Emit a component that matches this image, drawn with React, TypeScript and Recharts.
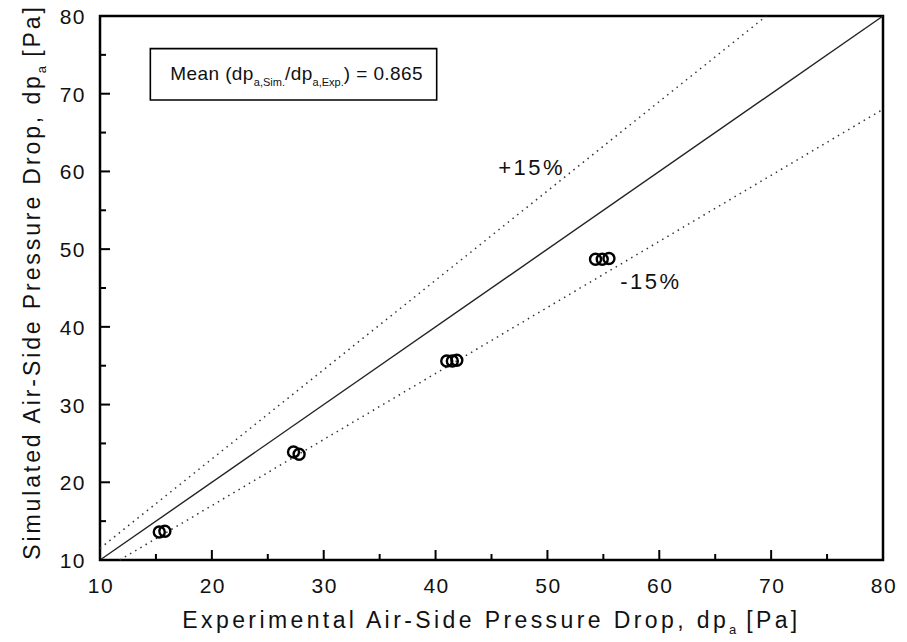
import React from 'react';
import {
  ScatterChart,
  Scatter,
  XAxis,
  YAxis,
  ReferenceLine,
  ReferenceArea,
  ReferenceDot,
} from 'recharts';

// measured (experimental) vs simulated air-side pressure drop, Pa
const expDp = [15.3, 15.8, 27.3, 27.8, 41.0, 41.5, 41.9, 54.3, 54.9, 55.5];
const simDp = [13.6, 13.7, 23.9, 23.6, 35.6, 35.6, 35.7, 48.7, 48.7, 48.8];

const xTicks = [10, 15, 20, 25, 30, 35, 40, 45, 50, 55, 60, 65, 70, 75, 80];
const yTicks = [10, 15, 20, 25, 30, 35, 40, 45, 50, 55, 60, 65, 70, 75, 80];

// line end points: perfect agreement and +/-15% bands
const parityLine = [{ x: 10, y: 10 }, { x: 80, y: 80 }];
const plus15Line = [{ x: 10, y: 11.5 }, { x: 69.57, y: 80 }];
const minus15Line = [{ x: 11.76, y: 10 }, { x: 80, y: 68 }];

const meanRatio = '0.865';

const points = expDp.map((x, i) => ({ x, y: simDp[i] }));

const FONT = '"Liberation Sans", Arial, Helvetica, sans-serif';

function XTick(props: any) {
  const { x, y, payload } = props;
  const major = payload.value % 10 === 0;
  return (
    <g>
      <line x1={x} x2={x} y1={y} y2={y - (major ? 10 : 6)} stroke="#000" strokeWidth={2} />
      {major && (
        <text x={x + 1} y={y + 33} textAnchor="middle" fontSize={21} letterSpacing={1.5} fill="#111" fontFamily={FONT}>
          {payload.value}
        </text>
      )}
    </g>
  );
}

function YTick(props: any) {
  const { x, y, payload } = props;
  const major = payload.value % 10 === 0;
  return (
    <g>
      <line x1={x} x2={x + (major ? 10 : 6)} y1={y} y2={y} stroke="#000" strokeWidth={2} />
      {major && (
        <text x={x - 14} y={y + 8} textAnchor="end" fontSize={21} letterSpacing={1.5} fill="#111" fontFamily={FONT}>
          {payload.value}
        </text>
      )}
    </g>
  );
}

const XTitle = (props: any) => {
  const vb = props.viewBox;
  return (
    <text
      x={vb.x + vb.width / 2}
      y={628}
      textAnchor="middle"
      fontSize={23}
      letterSpacing={3.4}
      fill="#111"
      fontFamily={FONT}
    >
      Experimental Air-Side Pressure Drop, dp
      <tspan fontSize={13} dy={6} letterSpacing={0}>a</tspan>
      <tspan dy={-6}> [Pa]</tspan>
    </text>
  );
};

const YTitle = (props: any) => {
  const vb = props.viewBox;
  const cy = vb.y + vb.height / 2 - 6;
  return (
    <text
      x={40}
      y={cy}
      transform={`rotate(-90, 40, ${cy})`}
      textAnchor="middle"
      fontSize={23}
      letterSpacing={2.9}
      fill="#111"
      fontFamily={FONT}
    >
      Simulated Air-Side Pressure Drop, dp
      <tspan fontSize={13} dy={6} letterSpacing={0}>a</tspan>
      <tspan dy={-6}> [Pa]</tspan>
    </text>
  );
};

const MeanText = (props: any) => {
  const vb = props.viewBox;
  return (
    <text x={vb.x + 20} y={vb.y + 31} textAnchor="start" fontSize={19} letterSpacing={0.4} fill="#111" fontFamily={FONT}>
      Mean (dp
      <tspan fontSize={11} dy={6} letterSpacing={0}>a,Sim.</tspan>
      <tspan dy={-6}>/dp</tspan>
      <tspan fontSize={11} dy={6} letterSpacing={0}>a,Exp.</tspan>
      <tspan dy={-6}>) = {meanRatio}</tspan>
    </text>
  );
};

const bandLabel = (txt: string) => (props: any) => {
  const vb = props.viewBox;
  return (
    <text x={vb.x} y={vb.y} textAnchor="start" fontSize={22} letterSpacing={2.5} fill="#111" fontFamily={FONT}>
      {txt}
    </text>
  );
};

const OpenCircle = (props: any) => {
  const { cx, cy } = props;
  return <circle cx={cx} cy={cy} r={5.5} fill="none" stroke="#000" strokeWidth={2.4} />;
};

export default function App() {
  return (
    <div style={{ position: 'absolute', left: 0, top: 0, width: 907, height: 642, background: '#fff' }}>
      <ScatterChart width={907} height={642} margin={{ top: 16, right: 24, bottom: 0, left: 0 }}>
        <XAxis
          type="number"
          dataKey="x"
          domain={[10, 80]}
          ticks={xTicks}
          interval={0}
          height={82}
          tickSize={0}
          tickMargin={0}
          axisLine={false}
          tick={<XTick />}
          label={{ content: XTitle }}
        />
        <YAxis
          type="number"
          dataKey="y"
          domain={[10, 80]}
          ticks={yTicks}
          interval={0}
          width={100}
          tickSize={0}
          tickMargin={0}
          axisLine={false}
          tick={<YTick />}
          label={{ content: YTitle }}
        />
        <ReferenceArea x1={10} x2={80} y1={10} y2={80} fill="none" stroke="#000" strokeWidth={2.5} />
        <ReferenceLine segment={parityLine} stroke="#222" strokeWidth={1.4} />
        <ReferenceLine segment={plus15Line} stroke="#333" strokeWidth={1.5} strokeDasharray="1.5 4.5" />
        <ReferenceLine segment={minus15Line} stroke="#333" strokeWidth={1.5} strokeDasharray="1.5 4.5" />
        <ReferenceArea
          x1={14.5}
          x2={40.1}
          y1={69.2}
          y2={75.8}
          fill="#fff"
          fillOpacity={1}
          stroke="#000"
          strokeWidth={1.6}
          label={{ content: MeanText }}
        />
        <ReferenceDot x={45.6} y={59.6} r={0} fill="none" stroke="none" label={{ content: bandLabel('+15%') }} />
        <ReferenceDot x={56.5} y={44.9} r={0} fill="none" stroke="none" label={{ content: bandLabel('-15%') }} />
        <Scatter data={points} shape={<OpenCircle />} isAnimationActive={false} />
      </ScatterChart>
    </div>
  );
}
